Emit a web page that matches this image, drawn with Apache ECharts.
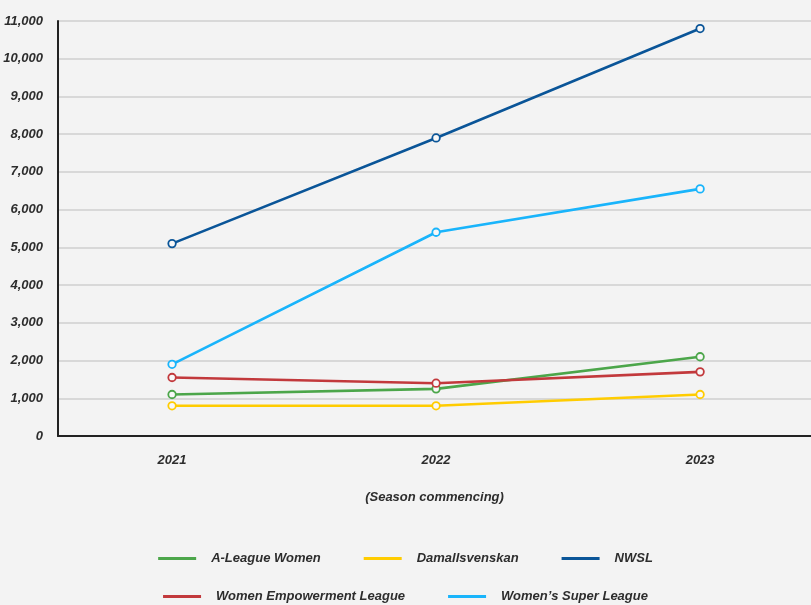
<!DOCTYPE html>
<html><head><meta charset="utf-8">
<script src="https://cdn.jsdelivr.net/npm/echarts@6/dist/echarts.min.js"></script>
<style>html,body{margin:0;padding:0;background:#f3f3f3}#c{width:811px;height:605px}</style>
</head><body><div id="c"></div>
<script>
const years = [2021, 2022, 2023];
const seriesNames = ['A-League Women', 'Damallsvenskan', 'NWSL', 'Women Empowerment League', "Women’s Super League"];
const aLeagueWomen = [1100, 1250, 2100];
const damallsvenskan = [800, 800, 1100];
const nwsl = [5100, 7900, 10800];
const womenEmpowerment = [1550, 1400, 1700];
const womensSuperLeague = [1900, 5400, 6550];
const yTicks = [0, 1000, 2000, 3000, 4000, 5000, 6000, 7000, 8000, 9000, 10000, 11000];
const colors = ['#4ca64a', '#ffcc00', '#0a5598', '#c2393c', '#19b4fb'];
const values = [aLeagueWomen, damallsvenskan, nwsl, womenEmpowerment, womensSuperLeague];

const FONT = '"Liberation Sans", Arial, sans-serif';
const txt = {fontFamily: FONT, fontStyle: 'italic', fontWeight: 'bold', color: '#2d2d2d', fontSize: 13};

const chart = echarts.init(document.getElementById('c'));
const legendItems = idx => idx.map(i => ({name: seriesNames[i], itemStyle: {color: colors[i], borderWidth: 0}}));
chart.setOption({
  backgroundColor: '#f3f3f3',
  animation: false,
  grid: {left: 58, right: 0, top: 21, bottom: 169, containLabel: false, outerBoundsMode: 'none'},
  xAxis: {
    type: 'value', min: 2020.568, max: 2023.42,
    axisLine: {show: true, lineStyle: {color: '#222', width: 2}},
    axisTick: {show: false},
    splitLine: {show: false},
    axisLabel: Object.assign({}, txt, {customValues: years, margin: 18, formatter: v => String(v)}),
    name: '(Season commencing)', nameLocation: 'middle', nameGap: 55,
    nameTextStyle: Object.assign({}, txt)
  },
  yAxis: {
    type: 'value', min: 0, max: 11000, interval: 1000,
    axisLine: {show: true, lineStyle: {color: '#222', width: 2}},
    axisTick: {show: false},
    splitLine: {lineStyle: {color: '#d8d8d8', width: 2}},
    axisLabel: Object.assign({}, txt, {margin: 15,
      formatter: v => yTicks.includes(v) ? v.toLocaleString('en-US') : ''})
  },
  legend: [
    {data: legendItems([0, 1, 2]), top: 547, left: 'center', itemGap: 43, itemWidth: 38, itemHeight: 3, icon: 'rect',
      textStyle: Object.assign({}, txt, {fontSize: 13, padding: [0, 0, 0, 10]})},
    {data: legendItems([3, 4]), top: 585, left: 'center', itemGap: 43, itemWidth: 38, itemHeight: 3, icon: 'rect',
      textStyle: Object.assign({}, txt, {fontSize: 13, padding: [0, 0, 0, 10]})}
  ],
  series: seriesNames.map((n, i) => ({
    name: n, type: 'line',
    data: years.map((y, j) => [y, values[i][j]]),
    color: colors[i],
    lineStyle: {width: 2.6, color: colors[i]},
    symbol: 'circle', symbolSize: 7.5,
    itemStyle: {color: '#f8f8f8', borderColor: colors[i], borderWidth: 1.8},
    z: [2, 2, 5, 3, 4][i]
  }))
});
</script></body></html>
